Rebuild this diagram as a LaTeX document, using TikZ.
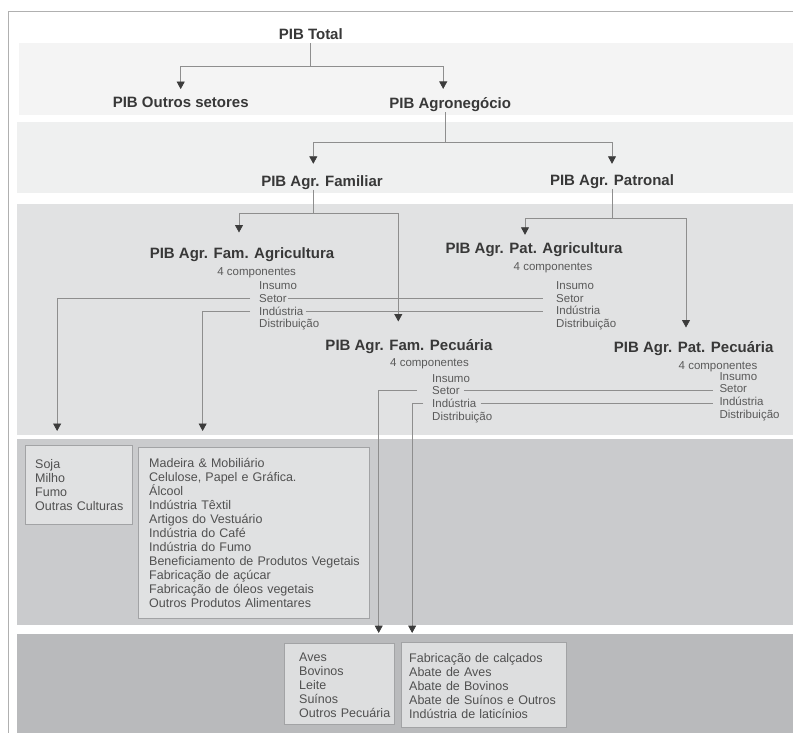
\documentclass[tikz,border=0pt]{standalone}
\usepackage{fontspec}
\setmainfont{Liberation Sans}
\usetikzlibrary{arrows.meta,calc}
\definecolor{bandA}{HTML}{F4F4F4}
\definecolor{bandB}{HTML}{EFF0F0}
\definecolor{bandC}{HTML}{E1E2E3}
\definecolor{bandD}{HTML}{CACBCD}
\definecolor{bandE}{HTML}{B9BABC}
\definecolor{framecol}{HTML}{B0B0B0}
\definecolor{wirecol}{HTML}{8E8E8E}
\definecolor{tipcol}{HTML}{3C3C3C}
\definecolor{titlecol}{HTML}{383838}
\definecolor{smallcol}{HTML}{5A5A5A}
\definecolor{boxfillA}{HTML}{E0E1E2}
\definecolor{boxfillB}{HTML}{DDDEDF}
\definecolor{boxline}{HTML}{A2A3A5}
\definecolor{boxtext}{HTML}{505050}
\begin{document}
\begin{tikzpicture}[x=1pt,y=-1pt,
  ttl/.style={font=\fontsize{15}{18}\selectfont\bfseries, text=titlecol, anchor=base, inner sep=0pt, text height=11pt, text depth=3.5pt},
  comp/.style={font=\fontsize{11.5}{13}\selectfont, text=smallcol, anchor=base, inner sep=0pt},
  item/.style={font=\fontsize{11.5}{13}\selectfont, text=smallcol, anchor=base west, inner sep=0pt, text height=8.5pt, text depth=0.5pt},
  wire/.style={draw=wirecol, line width=0.8pt},
  arr/.style={wire, -{Triangle[length=7.5pt,width=8pt,color=tipcol]}, shorten >=#1},
  boxA/.style={draw=boxline, line width=0.8pt, anchor=north west, inner sep=0pt},
  boxtxt/.style={font=\fontsize{12.5}{14}\selectfont, text=boxtext, anchor=base west, inner sep=0pt, text width=240pt, align=left},
]
\useasboundingbox (0,0) rectangle (793,733);
\fill[white] (0,0) rectangle (793,733);
% bands
\fill[bandA] (19.3,43) rectangle (793,115);
\fill[bandB] (17.3,122.3) rectangle (793,193);
\fill[bandC] (17.3,204) rectangle (793,434.5);
\fill[bandD] (17.3,439.3) rectangle (793,625);
\fill[bandE] (17.3,634) rectangle (793,733);
% frame
\draw[framecol, line width=0.8pt] (793,11) -- (8.5,11) -- (8.5,733);

% titles
\node[ttl] (total) at (310.8,39.4) {PIB Total};
\node[ttl] (outros) at (180.7,107.7) {PIB Outros setores};
\node[ttl] (agro) at (450.2,108.5) {PIB Agronegócio};
\node[ttl] (fam) at (322,186) {PIB Agr. Familiar};
\node[ttl] (pat) at (612,185.3) {PIB Agr. Patronal};
\node[ttl] (famagr) at (242,258.3) {PIB Agr. Fam. Agricultura};
\node[ttl] (patagr) at (534,253.3) {PIB Agr. Pat. Agricultura};
\node[ttl] (fampec) at (409,350) {PIB Agr. Fam. Pecuária};
\node[ttl] (patpec) at (693.7,352.7) {PIB Agr. Pat. Pecuária};

% components
\node[comp] (famagr-c) at (256.7,275.5) {4 componentes};
\node[comp] (patagr-c) at (553,270.5) {4 componentes};
\node[comp] (fampec-c) at (429.5,366.5) {4 componentes};
\node[comp] (patpec-c) at (718,369.5) {4 componentes};

% lists
\node[item] (famagr-ins) at (259,289.8) {Insumo};
\node[item] (famagr-set) at (259,302.5) {Setor};
\node[item] (famagr-ind) at (259,315.2) {Indústria};
\node[item] (famagr-dis) at (259,327.9) {Distribuição};
\node[item] (patagr-ins) at (556,289.3) {Insumo};
\node[item] (patagr-set) at (556,302) {Setor};
\node[item] (patagr-ind) at (556,314.7) {Indústria};
\node[item] (patagr-dis) at (556,327.4) {Distribuição};
\node[item] (fampec-ins) at (432,382) {Insumo};
\node[item] (fampec-set) at (432,394.8) {Setor};
\node[item] (fampec-ind) at (432,407.6) {Indústria};
\node[item] (fampec-dis) at (432,420.4) {Distribuição};
\node[item] (patpec-ins) at (719.3,380) {Insumo};
\node[item] (patpec-set) at (719.3,392.8) {Setor};
\node[item] (patpec-ind) at (719.3,405.6) {Indústria};
\node[item] (patpec-dis) at (719.3,418.4) {Distribuição};

% boxes
\node[boxA, fill=boxfillA, minimum width=106.7pt, minimum height=79.3pt] (culturas) at (25,445) {};
\node[boxA, fill=boxfillA, minimum width=230.7pt, minimum height=171.6pt] (industrias) at (138.3,446.7) {};
\node[boxA, fill=boxfillB, minimum width=110pt, minimum height=80.7pt] (pecuaria) at (284,643.3) {};
\node[boxA, fill=boxfillB, minimum width=164.7pt, minimum height=85pt] (indpec) at (401,641.7) {};

\node[boxtxt] (culturas-t) at (35,468.5) {Soja\\Milho\\Fumo\\Outras Culturas};
\node[boxtxt] (industrias-t) at (149,467.2) {Madeira \& Mobiliário\\Celulose, Papel e Gráfica.\\Álcool\\Indústria Têxtil\\Artigos do Vestuário\\Indústria do Café\\Indústria do Fumo\\Beneficiamento de Produtos Vegetais\\Fabricação de açúcar\\Fabricação de óleos vegetais\\Outros Produtos Alimentares};
\node[boxtxt] (pecuaria-t) at (299,661.2) {Aves\\Bovinos\\Leite\\Suínos\\Outros Pecuária};
\node[boxtxt] (indpec-t) at (409,662.2) {Fabricação de calçados\\Abate de Aves\\Abate de Bovinos\\Abate de Suínos e Outros\\Indústria de laticínios};

% tree connectors
\draw[wire] (total.south) -- ++(0,23.8) coordinate (j1);
\draw[arr=7.4pt] (j1) -| (outros.north);
\draw[arr=8.4pt] (j1) -| ($(agro.north)+(-7,0)$);

\draw[wire] ($(agro.south)+(-5,0)$) -- ++(0,30.3) coordinate (j2);
\draw[arr=11pt] (j2) -| ($(fam.north)+(-8.7,0)$);
\draw[arr=10.3pt] (j2) -| (pat.north);

\draw[wire] ($(fam.south)+(-8.7,0)$) -- ++(0,23.2) coordinate (j3);
\draw[arr=14.6pt] (j3) -| ($(famagr.north)+(-3,0)$);
\draw[arr=17.3pt] (j3) -| ($(fampec.north)+(-10.7,0)$);

\draw[wire] (pat.south) -- ++(0,29.5) coordinate (j4);
\draw[arr=7.3pt] (j4) -| ($(patagr.north)+(-9,0)$);
\draw[arr=14pt] (j4) -| ($(patpec.north)+(-7.7,0)$);

% component links
\draw[wire] ($(famagr-set.east)+(1,0)$) -- ($(famagr-set.east -| patagr-set.west)+(-12.7,0)$);
\draw[wire] ($(famagr-ind.east)+(2,0)$) -- ($(famagr-ind.east -| patagr-ind.west)+(-12.7,0)$);
\draw[arr=14pt] ($(famagr-set.west)+(-9,0)$) -| ($(culturas.north)+(-21.6,0)$);
\draw[arr=15.7pt] ($(famagr-ind.west)+(-9,0)$) -| ($(industrias.north)+(-51.4,0)$);

\draw[wire] ($(fampec-set.east)+(4,0)$) -- ($(fampec-set.east -| patpec-set.west)+(-6,0)$);
\draw[wire] ($(fampec-ind.east)+(4,0)$) -- ($(fampec-ind.east -| patpec-ind.west)+(-6,0)$);
\draw[arr=10.3pt] ($(fampec-set.west)+(-15.3,0)$) -| ($(pecuaria.north)+(39.3,0)$);
\draw[arr=8.7pt] ($(fampec-ind.west)+(-8.7,0)$) -| ($(indpec.north)+(-71.6,0)$);
\end{tikzpicture}
\end{document}
